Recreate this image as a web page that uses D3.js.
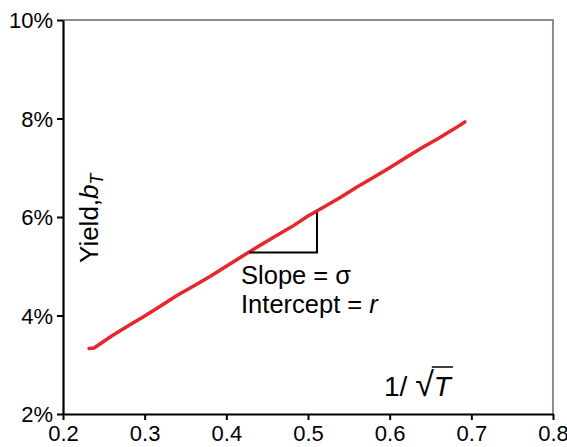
<!DOCTYPE html>
<html>
<head>
<meta charset="utf-8">
<script src="https://cdn.jsdelivr.net/npm/d3@7"></script>
<style>
  body { margin: 0; background: #fff; }
  svg text { font-family: "Liberation Sans", Arial, sans-serif; }
</style>
</head>
<body>
<div id="wrapper"></div>
<script>
// data
const xValues = [0.232, 0.238, 0.26, 0.28, 0.30, 0.32, 0.34, 0.36, 0.38, 0.40, 0.42, 0.44, 0.46,
  0.48, 0.50, 0.52, 0.54, 0.56, 0.58, 0.60, 0.62, 0.64, 0.66, 0.68, 0.692];
const yieldValues = [3.33, 3.34, 3.59, 3.79, 3.99, 4.20, 4.41, 4.60, 4.79, 5.00, 5.21, 5.41, 5.61,
  5.80, 6.02, 6.21, 6.40, 6.61, 6.80, 7.00, 7.21, 7.41, 7.60, 7.80, 7.93];
const xTicks = [0.2, 0.3, 0.4, 0.5, 0.6, 0.7, 0.8];
const yTicks = [2, 4, 6, 8, 10];
// slope triangle corners
const triangleX = [0.428, 0.511, 0.511];
const triangleY = [5.28, 5.28, 6.09];

function drawChart() {
  const dataset = xValues.map((x, i) => ({ x, y: yieldValues[i] }));
  const xAccessor = (d) => d.x;
  const yAccessor = (d) => d.y;

  let dimensions = {
    width: 567,
    height: 447,
    margin: { top: 20, right: 14, bottom: 33, left: 63 },
  };
  dimensions.boundsWidth = dimensions.width - dimensions.margin.left - dimensions.margin.right;
  dimensions.boundsHeight = dimensions.height - dimensions.margin.top - dimensions.margin.bottom;

  const svg = d3.select("#wrapper").append("svg")
    .attr("width", dimensions.width)
    .attr("height", dimensions.height);

  const bounds = svg.append("g")
    .attr("transform", `translate(${dimensions.margin.left},${dimensions.margin.top})`);

  const xScale = d3.scaleLinear().domain([0.2, 0.8]).range([0, dimensions.boundsWidth]);
  const yScale = d3.scaleLinear().domain([2, 10]).range([dimensions.boundsHeight, 0]);

  // grey top and right frame
  bounds.append("path")
    .attr("d", `M0,0H${dimensions.boundsWidth}V${dimensions.boundsHeight}`)
    .attr("fill", "none")
    .attr("stroke", "#878e96")
    .attr("stroke-width", 2);

  const yAxis = bounds.append("g")
    .call(d3.axisLeft(yScale).tickValues(yTicks).tickFormat((d) => d + "%").tickSize(6).tickSizeOuter(0));
  const xAxis = bounds.append("g")
    .attr("transform", `translate(0,${dimensions.boundsHeight})`)
    .call(d3.axisBottom(xScale).tickValues(xTicks).tickFormat(d3.format(".1f")).tickSize(6).tickSizeOuter(0));

  [yAxis, xAxis].forEach((ax) => {
    ax.select(".domain").attr("stroke", "#000").attr("stroke-width", 2.2);
    ax.selectAll(".tick line").attr("stroke", "#000").attr("stroke-width", 2);
    ax.selectAll(".tick text")
      .attr("fill", "#000")
      .style("font-size", "22px")
      .style("font-family", "Liberation Sans, Arial, sans-serif");
  });
  yAxis.selectAll(".tick text").attr("x", -10).attr("dy", "0.35em");
  xAxis.selectAll(".tick text").attr("y", 11).attr("dy", "0.71em");

  // fitted line
  const lineGenerator = d3.line()
    .x((d) => xScale(xAccessor(d)))
    .y((d) => yScale(yAccessor(d)));

  bounds.append("path")
    .attr("d", lineGenerator(dataset))
    .attr("fill", "none")
    .attr("stroke", "#e8262b")
    .attr("stroke-width", 3.5)
    .attr("stroke-linecap", "round")
    .attr("stroke-linejoin", "round");

  // slope triangle
  const tri = triangleX.map((x, i) => ({ x, y: triangleY[i] }));
  bounds.append("path")
    .attr("d", lineGenerator(tri))
    .attr("fill", "none")
    .attr("stroke", "#000")
    .attr("stroke-width", 2);

  // annotation text
  const noteX = xScale(0.418);
  const note = bounds.append("text")
    .attr("x", noteX)
    .attr("y", yScale(4.63))
    .style("font-size", "25.5px")
    .attr("fill", "#000");
  note.append("tspan").text("Slope = σ");
  const line2 = note.append("tspan").attr("x", noteX).attr("dy", 29).text("Intercept = ");
  line2.append("tspan").style("font-style", "italic").text("r");

  // y axis title
  const yTitle = svg.append("text")
    .attr("transform", "translate(98,263) rotate(-90)")
    .style("font-size", "26px")
    .attr("fill", "#000");
  yTitle.append("tspan").text("Yield,");
  yTitle.append("tspan").style("font-style", "italic").text("b");
  yTitle.append("tspan").style("font-style", "italic").style("font-size", "18px").attr("dy", 5).text("T");

  // x axis title: 1/ sqrt(T)
  const tx = 384, ty = 396;
  const xTitle = svg.append("text")
    .attr("x", tx)
    .attr("y", ty)
    .style("font-size", "28px")
    .attr("fill", "#000");
  xTitle.append("tspan").text("1/ ");
  xTitle.append("tspan").style("font-size", "34px").text("√");
  const tT = xTitle.append("tspan").style("font-style", "italic").text("T");
  const total = xTitle.node().getComputedTextLength();
  const tLen = tT.node().getComputedTextLength();
  const tStart = tx + total - tLen;
  svg.append("line")
    .attr("x1", tStart - 2)
    .attr("x2", tStart + tLen + 2)
    .attr("y1", ty - 29)
    .attr("y2", ty - 29)
    .attr("stroke", "#000")
    .attr("stroke-width", 1.5);
}

drawChart();
</script>
</body>
</html>
